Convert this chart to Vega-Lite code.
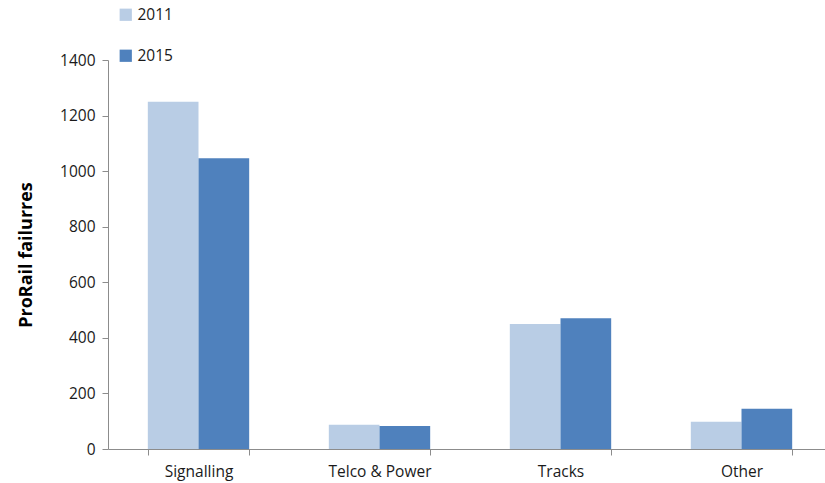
{
  "$schema": "https://vega.github.io/schema/vega-lite/v6.json",
  "width": 724,
  "height": 389,
  "autosize": {"type": "none"},
  "padding": {"left": 108, "top": 60, "right": 0, "bottom": 34},
  "background": "white",
  "data": {
    "values": [
      {"category": "Signalling", "year": "2011", "failures": 1250},
      {"category": "Signalling", "year": "2015", "failures": 1046},
      {"category": "Telco & Power", "year": "2011", "failures": 87},
      {"category": "Telco & Power", "year": "2015", "failures": 83},
      {"category": "Tracks", "year": "2011", "failures": 450},
      {"category": "Tracks", "year": "2015", "failures": 471},
      {"category": "Other", "year": "2011", "failures": 98},
      {"category": "Other", "year": "2015", "failures": 145}
    ]
  },
  "mark": {"type": "bar"},
  "encoding": {
    "x": {
      "field": "category",
      "type": "nominal",
      "sort": ["Signalling", "Telco & Power", "Tracks", "Other"],
      "scale": {"paddingInner": 0.44, "paddingOuter": 0.22},
      "axis": {
        "title": null,
        "labelAngle": 0,
        "labelFont": "Open Sans",
        "labelFontSize": 15.5,
        "labelColor": "#1a1a1a",
        "labelPadding": 9,
        "domainColor": "#8c8c8c",
        "tickColor": "#8c8c8c",
        "tickBand": "extent",
        "tickSize": 6
      }
    },
    "xOffset": {"field": "year", "type": "nominal", "scale": {"paddingInner": 0, "paddingOuter": 0}},
    "y": {
      "field": "failures",
      "type": "quantitative",
      "scale": {"domain": [0, 1400]},
      "axis": {
        "title": "ProRail failurres",
        "titleFont": "Open Sans",
        "titleFontSize": 18,
        "titleFontWeight": "bold",
        "titleColor": "#000000",
        "titlePadding": 24,
        "values": [0, 200, 400, 600, 800, 1000, 1200, 1400],
        "format": "d",
        "grid": false,
        "labelFont": "Open Sans",
        "labelFontSize": 15.5,
        "labelColor": "#1a1a1a",
        "labelPadding": 7,
        "domainColor": "#8c8c8c",
        "tickColor": "#8c8c8c",
        "tickSize": 6
      }
    },
    "color": {
      "field": "year",
      "type": "nominal",
      "scale": {"domain": ["2011", "2015"], "range": ["#B9CDE5", "#4F81BD"]},
      "legend": {
        "title": null,
        "orient": "none",
        "legendX": 10,
        "legendY": -53,
        "symbolType": "square",
        "symbolSize": 150,
        "symbolStrokeWidth": 0,
        "rowPadding": 24,
        "labelFont": "Open Sans",
        "labelFontSize": 15.5,
        "labelColor": "#1a1a1a",
        "labelOffset": 4
      }
    }
  },
  "config": {"view": {"stroke": null}}
}
